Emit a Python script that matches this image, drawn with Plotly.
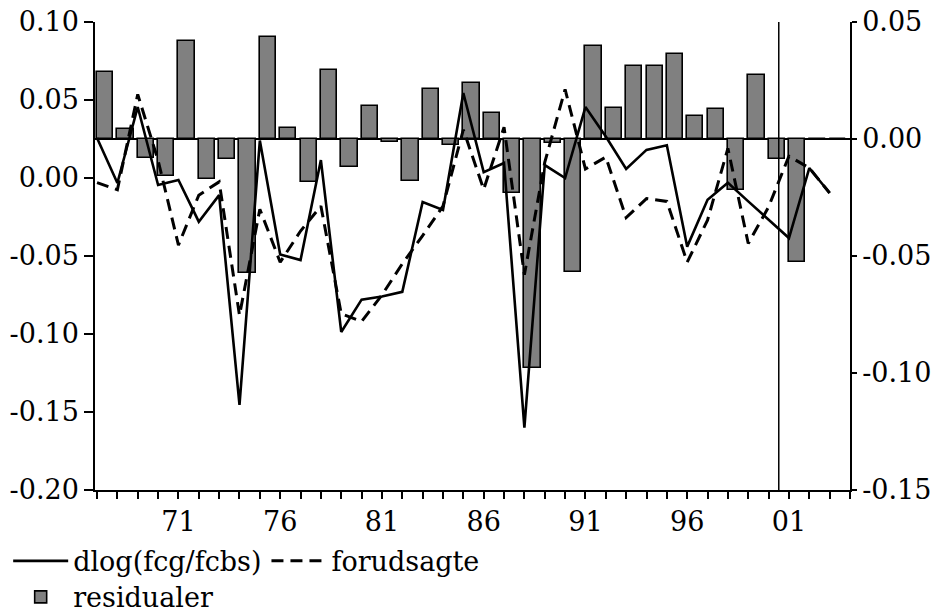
import plotly.graph_objects as go

years = list(range(1967, 2004))
actual = [0.0256, -0.0032, 0.0455, -0.0045, -0.0013, -0.028, -0.011, -0.1455, 0.024, -0.049,
          -0.0526, 0.0115, -0.0987, -0.078, -0.076, -0.073, -0.0154, -0.0205, 0.0545, 0.0038,
          0.0096, -0.160, 0.0083, 0.0, 0.0455, 0.0266, 0.0058, 0.018, 0.021, -0.044,
          -0.014, -0.003, -0.015, -0.027, -0.0385, 0.0064, -0.0096]
fitted = [-0.003, -0.0075, 0.0536, 0.0113, -0.043, -0.011, -0.0025, -0.088, -0.020, -0.054,
          -0.034, -0.018, -0.087, -0.092, -0.075, -0.055, -0.037, -0.018, 0.031, -0.0073,
          0.0326, -0.062, 0.010, 0.0568, 0.0058, 0.0134, -0.0254, -0.0132, -0.015, -0.054,
          -0.027, 0.019, -0.042, -0.0185, 0.014, 0.0064, -0.0096]
residuals = [0.0286, 0.0043, -0.0081, -0.0158, 0.0419, -0.0171, -0.0085, -0.0573, 0.0436, 0.0047,
             -0.0184, 0.0295, -0.012, 0.0141, -0.0013, -0.018, 0.0214, -0.0026, 0.0239, 0.0111,
             -0.023, -0.0979, -0.0017, -0.0568, 0.0397, 0.0132, 0.0312, 0.0312, 0.0363, 0.0098,
             0.0128, -0.0218, 0.0274, -0.0085, -0.0526, 0.0, 0.0]

left_ticks = [0.10, 0.05, 0.00, -0.05, -0.10, -0.15, -0.20]
left_text = ["0.10", "0.05", "0.00", "-0.05", "-0.10", "-0.15", "-0.20"]
right_ticks = [0.05, 0.00, -0.05, -0.10, -0.15]
right_text = ["0.05", "0.00", "-0.05", "-0.10", "-0.15"]
x_ticks = list(range(1967, 2005))
x_labels = {1971: "71", 1976: "76", 1981: "81", 1986: "86", 1991: "91", 1996: "96", 2001: "01"}
x_text = [x_labels.get(y, "") for y in x_ticks]
split_year = 2000.5

FONT = "DejaVu Serif"
FS = 27

fig = go.Figure()

fig.add_trace(go.Bar(
    x=years, y=residuals, name="residualer", yaxis="y",
    offset=0, width=0.8,
    marker=dict(color="#808080", line=dict(color="black", width=1.6)),
    legend="legend2",
))
fig.add_trace(go.Scatter(
    x=years, y=actual, name="dlog(fcg/fcbs)", yaxis="y2", mode="lines",
    line=dict(color="black", width=2.6),
    legend="legend",
))
fig.add_trace(go.Scatter(
    x=years, y=fitted, name="forudsagte", yaxis="y2", mode="lines",
    line=dict(color="black", width=3, dash="12px,7px"),
    legend="legend",
))

fig.add_shape(type="line", xref="x", yref="paper", x0=split_year, x1=split_year, y0=0, y1=1,
              line=dict(color="black", width=1.5))

fig.update_layout(
    width=938, height=613,
    margin=dict(l=95, r=88, t=22, b=123, autoexpand=False),
    paper_bgcolor="white", plot_bgcolor="white",
    font=dict(family=FONT, size=FS, color="black"),
    bargap=0,
    xaxis=dict(
        range=[1966.9, 2004], tickvals=x_ticks, ticktext=x_text,
        ticks="outside", ticklen=7, tickwidth=1.5, tickcolor="black",
        showline=True, linecolor="black", linewidth=1.5,
        showgrid=False, zeroline=False,
        tickfont=dict(family=FONT, size=FS),
    ),
    yaxis=dict(
        side="right", range=[-0.15, 0.05], tickvals=right_ticks, ticktext=right_text,
        ticks="outside", ticklen=5, tickwidth=1.5, tickcolor="black",
        showline=True, linecolor="black", linewidth=1.5,
        showgrid=False, zeroline=True, zerolinecolor="black", zerolinewidth=1.5,
        tickfont=dict(family=FONT, size=FS),
    ),
    yaxis2=dict(
        side="left", overlaying="y", range=[-0.20, 0.10], tickvals=left_ticks, ticktext=left_text,
        ticks="outside", ticklen=9, tickwidth=1.5, tickcolor="black",
        showline=True, linecolor="black", linewidth=1.5,
        showgrid=False, zeroline=False,
        tickfont=dict(family=FONT, size=FS),
    ),
    legend=dict(
        orientation="h", x=-0.115, xanchor="left", y=-0.10, yanchor="top",
        font=dict(family=FONT, size=FS), bgcolor="rgba(0,0,0,0)",
        itemwidth=55, traceorder="normal", tracegroupgap=0,
    ),
    legend2=dict(
        orientation="h", x=-0.115, xanchor="left", y=-0.177, yanchor="top",
        font=dict(family=FONT, size=FS), bgcolor="rgba(0,0,0,0)",
        itemwidth=55,
    ),
    showlegend=True,
)

fig.write_html("out.html")
